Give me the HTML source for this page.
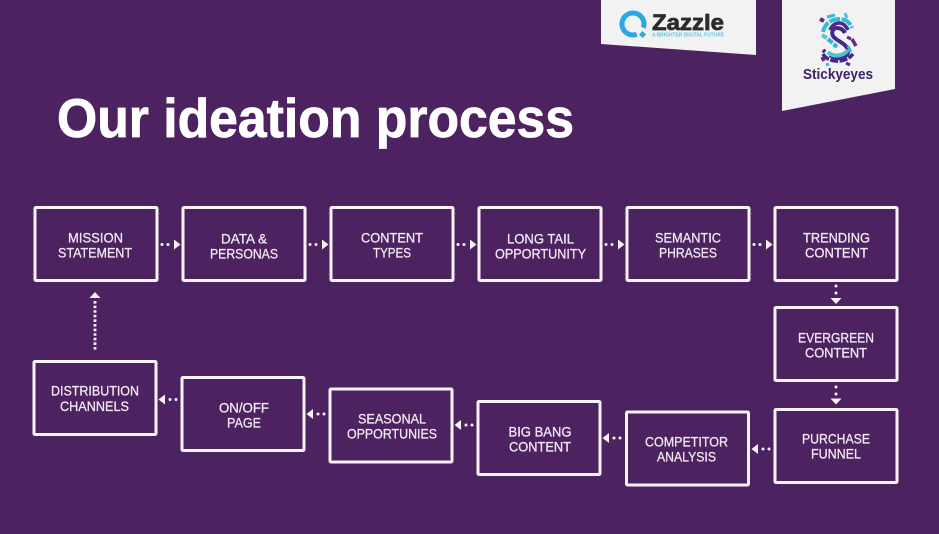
<!DOCTYPE html>
<html>
<head>
<meta charset="utf-8">
<style>
html,body{margin:0;padding:0;width:939px;height:534px;overflow:hidden;background:#4d2260}
svg{display:block}
.b{fill:none;stroke:#f7f3f7;stroke-width:3;stroke-linejoin:round}
.t{font-family:"Liberation Sans",sans-serif;font-size:14px;fill:#f0e9f1;stroke:#f0e9f1;stroke-width:.3}
.d{fill:#f7f3f7}
</style>
</head>
<body>
<svg width="939" height="534" viewBox="0 0 939 534" xmlns="http://www.w3.org/2000/svg">
<rect width="939" height="534" fill="#4d2260"/>

<!-- banners -->
<polygon points="601,0 756,0 756,55 601,44" fill="#f2f2f2"/>
<polygon points="782,0 895,0 895,89 782,111" fill="#f2f2f2"/>

<!-- Zazzle logo -->
<path d="M643.300 27.800 A11 11 0 1 0 636.800 34.300" fill="none" stroke="#29a9e1" stroke-width="5"/>
<rect x="640" y="32" width="5" height="5" fill="#29a9e1" transform="rotate(45 642.500 34.500)"/>
<text x="652" y="30" font-family="Liberation Sans,sans-serif" font-weight="bold" font-size="22" fill="#2b2b2e" stroke="#2b2b2e" stroke-width=".7" textLength="72" lengthAdjust="spacingAndGlyphs">Zazzle</text>
<text x="652" y="36.500" font-family="Liberation Sans,sans-serif" font-weight="bold" font-size="5" fill="#5cc4ea" textLength="72" lengthAdjust="spacingAndGlyphs">A BRIGHTER DIGITAL FUTURE</text>

<!-- Stickyeyes logo -->
<g fill="none" stroke-linecap="butt">
  <path d="M823 32 C825 22 833 19 840 19 C846 19 850 23 852 28" stroke="#35b9dc" stroke-width="4" stroke-dasharray="11 1.500"/>
  <path d="M830 30 C832 25 836 23 839 23 C843 23 846 26 848 30" stroke="#4a2c8c" stroke-width="3.500"/>
  <path d="M845 33 C843 29 840 28 837 28 C833 28 831 32 833 36 C836 41 846 43 848 50 C849 55 844 58 839 58 C835 58 832 57 830 55" stroke="#43298a" stroke-width="4"/>
  <path d="M827 17 L835 15" stroke="#35b9dc" stroke-width="3"/>
  <path d="M845 13 L847 18" stroke="#55c3cf" stroke-width="3"/>
  <path d="M822 35 L827 38" stroke="#66c4cc" stroke-width="4"/>
  <path d="M828 39 L837 47" stroke="#2fb2df" stroke-width="4" stroke-dasharray="6 1.500"/>
  <path d="M828 52 C832 57 843 57 848 50" stroke="#55c0cf" stroke-width="4"/>
  <path d="M823 54 C828 63 845 64 853 54" stroke="#3c2a88" stroke-width="3.500" stroke-dasharray="8 1.500"/>
  <path d="M822 57 L824 61" stroke="#5a2d8a" stroke-width="3.500"/>
  <path d="M852 39 L856 46" stroke="#5a2d8a" stroke-width="3.500"/>
  <path d="M847 37 L851 39" stroke="#5a2d8a" stroke-width="3"/>
  <path d="M848 46 L851 52" stroke="#35b9dc" stroke-width="3"/>
  <path d="M820 19 L824 21" stroke="#5a2d8a" stroke-width="4"/>
  <path d="M846 63 L850 65" stroke="#5a2d8a" stroke-width="3"/>
  <path d="M826 65 L829 64" stroke="#35b9dc" stroke-width="3"/>
  <path d="M823 50 L825 52" stroke="#3c2a88" stroke-width="4"/>
</g>
<text x="803" y="79" font-family="Liberation Sans,sans-serif" font-weight="bold" font-size="14.500" fill="#3d2168" textLength="70" lengthAdjust="spacingAndGlyphs">Stickyeyes</text>

<!-- title -->
<text x="57" y="137" font-family="Liberation Sans,sans-serif" font-weight="bold" font-size="55" fill="#ffffff" stroke="#ffffff" stroke-width=".8" textLength="517" lengthAdjust="spacingAndGlyphs">Our ideation process</text>

<!-- boxes -->
<rect class="b" x="35" y="207.500" width="122" height="73" rx="1"/>
<rect class="b" x="183" y="207.500" width="122" height="73" rx="1"/>
<rect class="b" x="331" y="207.500" width="122" height="73" rx="1"/>
<rect class="b" x="479" y="207.500" width="122" height="73" rx="1"/>
<rect class="b" x="627" y="207.500" width="122" height="73" rx="1"/>
<rect class="b" x="775" y="207.500" width="122" height="73" rx="1"/>
<rect class="b" x="775" y="307.500" width="122" height="73" rx="1"/>
<rect class="b" x="775" y="409.500" width="122" height="73" rx="1"/>
<rect class="b" x="626.500" y="412" width="122" height="73" rx="1"/>
<rect class="b" x="478" y="401.500" width="122" height="73" rx="1"/>
<rect class="b" x="330" y="389" width="122" height="73" rx="1"/>
<rect class="b" x="182" y="377.500" width="122" height="73" rx="1"/>
<rect class="b" x="34" y="361.500" width="122" height="73" rx="1"/>

<!-- labels -->
<g transform="translate(0,-0.700)">
<text class="t" x="68" y="243" textLength="55" lengthAdjust="spacingAndGlyphs">MISSION</text>
<text class="t" x="58" y="258" textLength="74" lengthAdjust="spacingAndGlyphs">STATEMENT</text>
<text class="t" x="221" y="244" textLength="46" lengthAdjust="spacingAndGlyphs">DATA &amp;</text>
<text class="t" x="210" y="259" textLength="68" lengthAdjust="spacingAndGlyphs">PERSONAS</text>
<text class="t" x="361" y="243" textLength="62" lengthAdjust="spacingAndGlyphs">CONTENT</text>
<text class="t" x="373" y="258" textLength="38" lengthAdjust="spacingAndGlyphs">TYPES</text>
<text class="t" x="507" y="244" textLength="67" lengthAdjust="spacingAndGlyphs">LONG TAIL</text>
<text class="t" x="495" y="259" textLength="91" lengthAdjust="spacingAndGlyphs">OPPORTUNITY</text>
<text class="t" x="655" y="243" textLength="66" lengthAdjust="spacingAndGlyphs">SEMANTIC</text>
<text class="t" x="659" y="258" textLength="58" lengthAdjust="spacingAndGlyphs">PHRASES</text>
<text class="t" x="803" y="243" textLength="67" lengthAdjust="spacingAndGlyphs">TRENDING</text>
<text class="t" x="805" y="258" textLength="63" lengthAdjust="spacingAndGlyphs">CONTENT</text>
<text class="t" x="798" y="343" textLength="76" lengthAdjust="spacingAndGlyphs">EVERGREEN</text>
<text class="t" x="805" y="358" textLength="62" lengthAdjust="spacingAndGlyphs">CONTENT</text>
<text class="t" x="802" y="444" textLength="68" lengthAdjust="spacingAndGlyphs">PURCHASE</text>
<text class="t" x="811" y="459" textLength="50" lengthAdjust="spacingAndGlyphs">FUNNEL</text>
<text class="t" x="645" y="447" textLength="83" lengthAdjust="spacingAndGlyphs">COMPETITOR</text>
<text class="t" x="657" y="462" textLength="59" lengthAdjust="spacingAndGlyphs">ANALYSIS</text>
<text class="t" x="508.500" y="437" textLength="63" lengthAdjust="spacingAndGlyphs">BIG BANG</text>
<text class="t" x="509" y="452" textLength="62" lengthAdjust="spacingAndGlyphs">CONTENT</text>
<text class="t" x="358" y="424" textLength="68" lengthAdjust="spacingAndGlyphs">SEASONAL</text>
<text class="t" x="347" y="439" textLength="90" lengthAdjust="spacingAndGlyphs">OPPORTUNIES</text>
<text class="t" x="219" y="413" textLength="50" lengthAdjust="spacingAndGlyphs">ON/OFF</text>
<text class="t" x="227" y="428" textLength="34" lengthAdjust="spacingAndGlyphs">PAGE</text>
<text class="t" x="51" y="396" textLength="88" lengthAdjust="spacingAndGlyphs">DISTRIBUTION</text>
<text class="t" x="60" y="411.500" textLength="69" lengthAdjust="spacingAndGlyphs">CHANNELS</text>
</g>

<!-- arrows -->
<g class="d">
  <g><circle cx="162" cy="244.500" r="1.500"/><circle cx="168" cy="244.500" r="1.500"/><polygon points="174,239.500 180.500,244.500 174,249.500"/></g>
  <g transform="translate(148,0)"><circle cx="162" cy="244.500" r="1.500"/><circle cx="168" cy="244.500" r="1.500"/><polygon points="174,239.500 180.500,244.500 174,249.500"/></g>
  <g transform="translate(296,0)"><circle cx="162" cy="244.500" r="1.500"/><circle cx="168" cy="244.500" r="1.500"/><polygon points="174,239.500 180.500,244.500 174,249.500"/></g>
  <g transform="translate(444,0)"><circle cx="162" cy="244.500" r="1.500"/><circle cx="168" cy="244.500" r="1.500"/><polygon points="174,239.500 180.500,244.500 174,249.500"/></g>
  <g transform="translate(592,0)"><circle cx="162" cy="244.500" r="1.500"/><circle cx="168" cy="244.500" r="1.500"/><polygon points="174,239.500 180.500,244.500 174,249.500"/></g>

  <circle cx="836" cy="286" r="1.500"/><circle cx="836" cy="293" r="1.500"/><polygon points="830.500,298 841.500,298 836,304"/>
  <circle cx="836" cy="387" r="1.500"/><circle cx="836" cy="394" r="1.500"/><polygon points="830.500,398.500 841.500,398.500 836,404.500"/>

  <polygon points="165,394.500 158.500,399.500 165,404.500"/><circle cx="170" cy="399.500" r="1.500"/><circle cx="176" cy="399.500" r="1.500"/>
  <polygon points="313,409 306.500,414 313,419"/><circle cx="318" cy="414" r="1.500"/><circle cx="324" cy="414" r="1.500"/>
  <polygon points="461,420 454.500,425 461,430"/><circle cx="466" cy="425" r="1.500"/><circle cx="472" cy="425" r="1.500"/>
  <polygon points="609,433 602.500,438 609,443"/><circle cx="614" cy="438" r="1.500"/><circle cx="620" cy="438" r="1.500"/>
  <polygon points="758,444 751.500,449 758,454"/><circle cx="763" cy="449" r="1.500"/><circle cx="769" cy="449" r="1.500"/>

  <polygon points="89.500,298 100.500,298 95,292"/>
</g>
<line x1="95" y1="301" x2="95" y2="351" stroke="#f7f3f7" stroke-width="2.800" stroke-dasharray="2.600 2"/>
</svg>
</body>
</html>
